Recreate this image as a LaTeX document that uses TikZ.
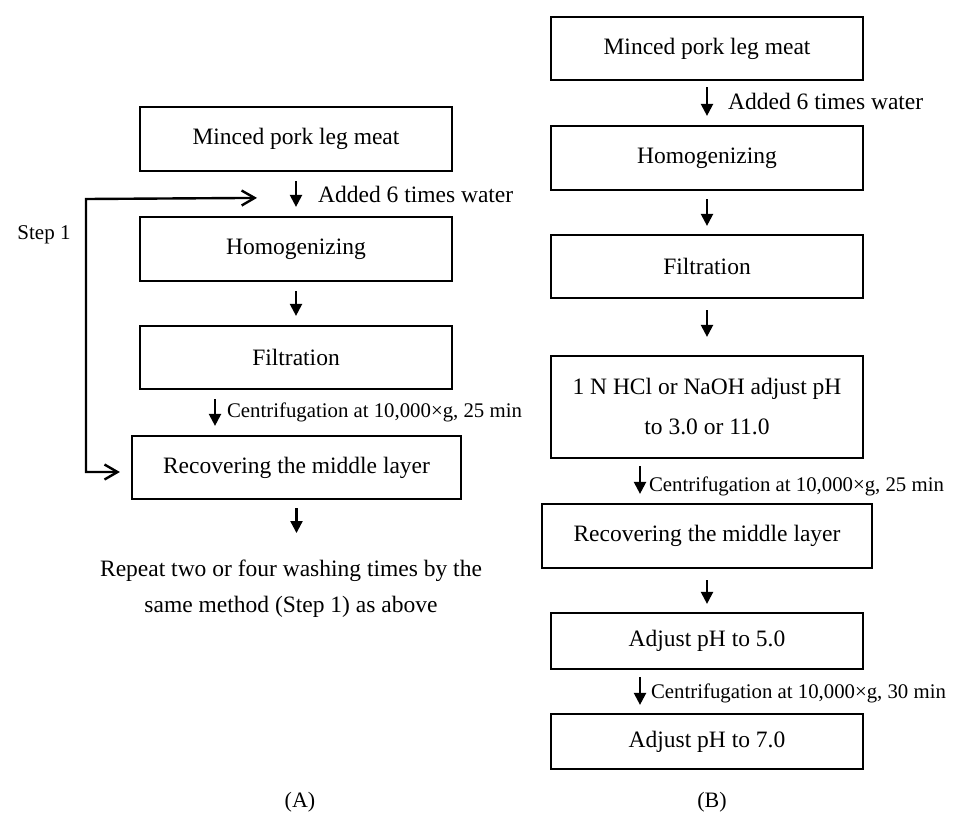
\documentclass[tikz,border=0pt]{standalone}
\usepackage{fontspec}
\setmainfont{Liberation Serif}
\usetikzlibrary{arrows.meta}
\begin{document}
\begin{tikzpicture}[x=1pt,y=-1pt,
  stepbox/.style={draw, line width=2.2pt, inner sep=0pt, font=\fontsize{23.5}{40}\selectfont, align=center},
  arr/.style={line width=2.2pt, -{Triangle[width=12pt,length=12pt]}},
  looparr/.style={line width=2.4pt, {Straight Barb[length=13pt,width=15pt]}-{Straight Barb[length=13pt,width=15pt]}},
  lbl/.style={font=\fontsize{23.5}{40}\selectfont, inner sep=0pt, anchor=west},
  clbl/.style={font=\fontsize{20.8}{30}\selectfont, inner sep=0pt, anchor=west},
  figcap/.style={font=\fontsize{22}{30}\selectfont, inner sep=0pt}]
\useasboundingbox (0,0) rectangle (957,812);
% ---------- (A) ----------
\node[stepbox, minimum width=312pt, minimum height=64pt] (a1) at (296,139) {Minced pork leg meat};
\node[stepbox, minimum width=312pt, minimum height=64pt] (a2) at (296,249) {Homogenizing};
\node[stepbox, minimum width=312pt, minimum height=63pt] (a3) at (296,357.5) {Filtration};
\node[stepbox, minimum width=329pt, minimum height=63pt] (a4) at (296.5,467.5) {Recovering the middle layer};
\node[font=\fontsize{23.5}{36}\selectfont, align=center, inner sep=0pt] (rep) at (291,589)
  {Repeat two or four washing times by the\\same method (Step 1) as above};
\node[font=\fontsize{21}{30}\selectfont, inner sep=0pt] (step) at (44,235) {Step 1};
\node[figcap] (capA) at (300,802) {(A)};

\draw[arr] ([yshift=-9pt]a1.south) -- ([yshift=9pt]a2.north)
  node[midway, lbl, xshift=21pt] (w1) {Added 6 times water};
\draw[arr] ([yshift=-9pt]a2.south) -- ([yshift=9pt]a3.north);
\draw[arr] ([xshift=-81pt,yshift=-9pt]a3.south) -- ([xshift=-81pt,yshift=9pt]a3.south |- a4.north)
  node[midway, clbl, xshift=11pt] {Centrifugation at 10,000×g, 25 min};
\draw[arr] ([yshift=-8pt]a4.south) -- ([yshift=27pt]a4.south |- rep.north);

\coordinate (lt) at ([xshift=-39pt,yshift=18pt]a2.north);
\coordinate (lb) at ([xshift=-11pt,yshift=-4.5pt]a4.west);
\draw[looparr] (lt) -- (86,199) -- (86,472) -- (lb);

% ---------- (B) ----------
\node[stepbox, minimum width=312pt, minimum height=63pt] (b1) at (707,48.5) {Minced pork leg meat};
\node[stepbox, minimum width=312pt, minimum height=64pt] (b2) at (707,158) {Homogenizing};
\node[stepbox, minimum width=312pt, minimum height=63pt] (b3) at (707,266.5) {Filtration};
\node[stepbox, minimum width=312pt, minimum height=102pt, font=\fontsize{23.5}{40}\selectfont] (b4) at (707,407) {1 N HCl or NaOH adjust pH\\to 3.0 or 11.0};
\node[stepbox, minimum width=330pt, minimum height=64pt] (b5) at (707,536) {Recovering the middle layer};
\node[stepbox, minimum width=312pt, minimum height=56pt] (b6) at (707,641) {Adjust pH to 5.0};
\node[stepbox, minimum width=312pt, minimum height=55pt] (b7) at (707,741.5) {Adjust pH to 7.0};
\node[figcap] (capB) at (712,802) {(B)};

\draw[arr] ([yshift=-6pt]b1.south) -- ([yshift=9pt]b2.north)
  node[midway, lbl, xshift=20pt] {Added 6 times water};
\draw[arr] ([yshift=-8pt]b2.south) -- ([yshift=8pt]b3.north);
\draw[arr] ([yshift=-11pt]b3.south) -- ([yshift=18pt]b4.north);
\draw[arr] ([xshift=-67pt,yshift=-7pt]b4.south) -- ([xshift=-67pt,yshift=9pt]b4.south |- b5.north)
  node[midway, clbl, xshift=8pt, yshift=-6pt] {Centrifugation at 10,000×g, 25 min};
\draw[arr] ([yshift=-11pt]b5.south) -- ([yshift=8pt]b6.north);
\draw[arr] ([xshift=-67pt,yshift=-7pt]b6.south) -- ([xshift=-67pt,yshift=8pt]b6.south |- b7.north)
  node[midway, clbl, xshift=10pt, yshift=-2pt] {Centrifugation at 10,000×g, 30 min};
\end{tikzpicture}
\end{document}
